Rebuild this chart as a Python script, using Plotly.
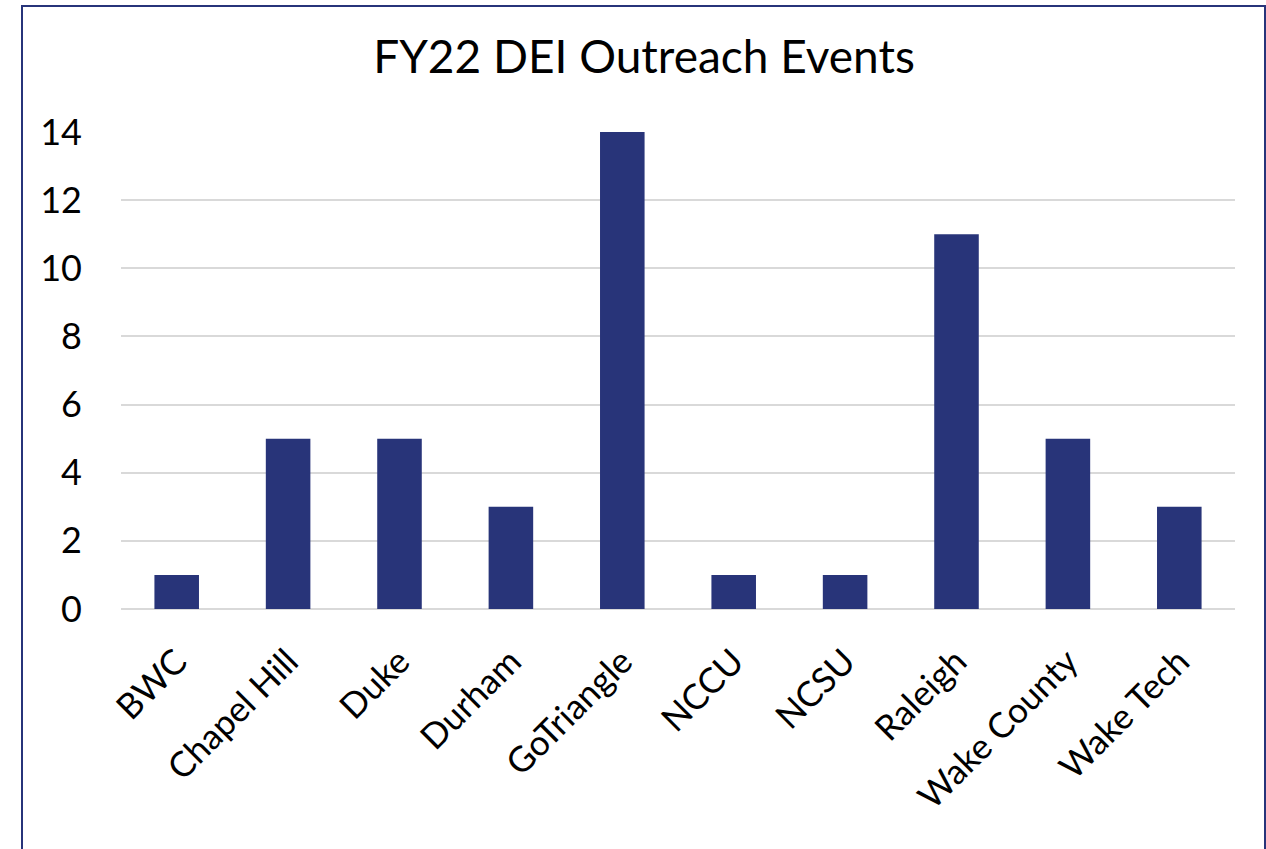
import plotly.graph_objects as go

categories = ["BWC", "Chapel Hill", "Duke", "Durham", "GoTriangle", "NCCU", "NCSU", "Raleigh", "Wake County", "Wake Tech"]
events = [1, 5, 5, 3, 14, 1, 1, 11, 5, 3]
y_ticks = [0, 2, 4, 6, 8, 10, 12, 14]

W, H = 1266, 849
L, R, T, B = 121, 31, 132, 240
pw, ph = W - L - R, H - T - B

def px(x):
    return (x - L) / pw

def py(y):
    return (H - B - y) / ph

fig = go.Figure(go.Bar(x=categories, y=events, marker_color="#283479", marker_line_width=0))

fig.update_layout(
    width=W, height=H,
    margin=dict(l=L, r=R, t=T, b=B, autoexpand=False),
    plot_bgcolor="white", paper_bgcolor="white",
    bargap=0.6,
    showlegend=False,
    font=dict(family="Lato, Carlito, Calibri, sans-serif", color="black"),
    title=dict(text="FY22 DEI Outreach Events", xref="container", x=644 / W, xanchor="center",
               yref="container", y=1 - 57 / H, yanchor="middle", font=dict(size=46, color="black")),
    xaxis=dict(tickangle=-45, tickfont=dict(size=35), showgrid=False, showline=False,
               ticks="", automargin=False, ticklabelstandoff=24),
    yaxis=dict(range=[0, 14], tickvals=y_ticks, tickfont=dict(size=36), showgrid=True,
               gridcolor="#d9d9d9", gridwidth=2, zeroline=True, zerolinecolor="#d9d9d9",
               zerolinewidth=2, showline=False, ticks="", ticklabelstandoff=38, automargin=False),
    shapes=[dict(type="rect", xref="paper", yref="paper",
                 x0=px(22), x1=px(1265), y0=py(6), y1=py(900),
                 line=dict(color="#27347a", width=2), fillcolor="rgba(0,0,0,0)", layer="below")],
)

fig.write_html("out.html", config={"displayModeBar": False},
               post_script="document.body.style.margin='0';")
